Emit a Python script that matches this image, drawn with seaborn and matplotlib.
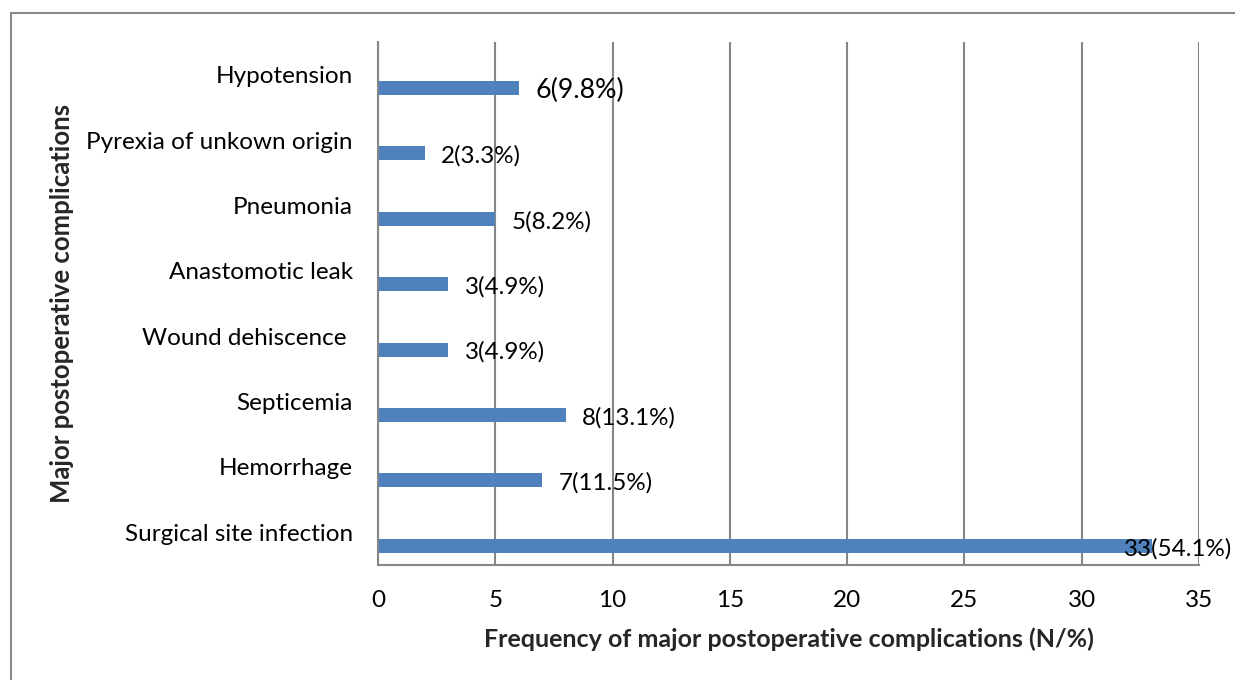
import numpy as np
import pandas as pd
import matplotlib
matplotlib.use("Agg")
import matplotlib.pyplot as plt
from matplotlib.patches import Rectangle
import seaborn as sns

complications = [
    "Hypotension",
    "Pyrexia of unkown origin",
    "Pneumonia",
    "Anastomotic leak",
    "Wound dehiscence ",
    "Septicemia",
    "Hemorrhage",
    "Surgical site infection",
]
counts = [6, 2, 5, 3, 3, 8, 7, 33]
percents = [9.8, 3.3, 8.2, 4.9, 4.9, 13.1, 11.5, 54.1]
x_ticks = [0, 5, 10, 15, 20, 25, 30, 35]

df = pd.DataFrame({"complication": complications, "count": counts, "pct": percents})

sns.set_style("white")
plt.rcParams["font.family"] = ["Lato", "DejaVu Sans"]

BAR_COLOR = "#4F81BD"
GRID_COLOR = "#868686"

fig = plt.figure(figsize=(12.35, 6.8), dpi=100)
ax = fig.add_axes([378 / 1235, 1 - 565 / 680, (1199 - 378) / 1235, (565 - 42) / 680])

bar_h = 0.214
bar_shift = 0.205
sns.barplot(data=df, y="complication", x="count", order=complications,
            color=BAR_COLOR, saturation=1, width=bar_h, ax=ax, orient="h")
# bars sit in the lower part of each category band
for p in ax.patches:
    p.set_y(p.get_y() + bar_shift)
    p.set_edgecolor("none")

ax.set_xlim(0, 35)
ax.set_ylim(len(complications) - 0.5, -0.5)
ax.set_xticks(x_ticks)
ax.set_xticklabels([str(t) for t in x_ticks])
ax.xaxis.grid(True, color=GRID_COLOR, linewidth=1.5)
ax.yaxis.grid(False)
ax.set_axisbelow(True)

for side in ("top", "right"):
    ax.spines[side].set_visible(False)
for side in ("left", "bottom"):
    ax.spines[side].set_color(GRID_COLOR)
    ax.spines[side].set_linewidth(1.5)

ax.tick_params(axis="x", length=0, pad=18, labelsize=17.5)
ax.tick_params(axis="y", length=0, pad=18, labelsize=17.5)
for t in ax.get_xticklabels() + ax.get_yticklabels():
    t.set_color("black")

# value labels: count with share in brackets
for i, (n, p) in enumerate(zip(counts, percents)):
    big = i == 0
    if n > 30:
        xpos = n - 1.2
    else:
        xpos = n + 0.7
    ax.text(xpos, i + bar_shift + 0.04, f"{n}({p}%)", ha="left", va="center",
            fontsize=19.3 if big else 17.4, color="black")

ax.set_xlabel("Frequency of major postoperative complications (N/%)",
              fontsize=18, fontweight="bold", labelpad=12)
ax.set_ylabel("Major postoperative complications",
              fontsize=18.5, fontweight="bold", labelpad=9)

# chart-area frame
fig.patches.append(Rectangle((11 / 1235, -0.2), 1.2, 1.2 - 13 / 680,
                             transform=fig.transFigure, fill=False,
                             edgecolor="#888888", linewidth=1.5, clip_on=False))

fig.savefig("out.png", dpi=100, facecolor="white")
